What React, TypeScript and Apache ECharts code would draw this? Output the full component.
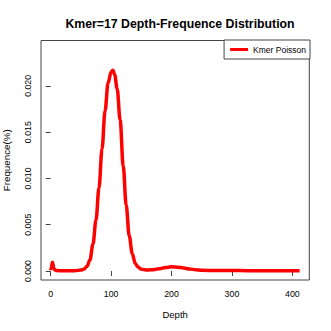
import React, { useEffect, useRef } from "react";
import * as echarts from "echarts";

const titleText = "Kmer=17 Depth-Frequence Distribution";
const seriesName = "Kmer Poisson";
const xName = "Depth";
const yName = "Frequence(%)";
const xTicks = [0, 100, 200, 300, 400];
const yTicks = [0, 0.005, 0.01, 0.015, 0.02];

const depths = [
  0, 1, 2, 3, 4, 5, 7, 10, 20, 30, 40, 50, 55, 60, 65, 70, 75, 80, 85, 90, 95,
  100, 103, 106, 110, 115, 120, 125, 130, 135, 140, 145, 150, 160, 170, 180,
  190, 200, 210, 220, 230, 240, 250, 275, 300, 325, 350, 375, 400, 412,
];
const freqs = [
  0.0001, 0.0003, 0.0007, 0.00095, 0.0007, 0.0003, 0.00012, 0.00005, 0.00002,
  0.00002, 0.00004, 0.0001, 0.0002, 0.0005, 0.0012, 0.0029, 0.0055, 0.009,
  0.0132, 0.0173, 0.0203, 0.0215, 0.0217, 0.0212, 0.0197, 0.0163, 0.0114,
  0.0071, 0.0038, 0.0019, 0.0008, 0.0004, 0.0002, 0.0001, 0.00015, 0.00025,
  0.00038, 0.00045, 0.00042, 0.00033, 0.00022, 0.00013, 0.00008, 0.00005,
  0.00005, 0.00004, 0.00004, 0.00003, 0.00003, 0.00003,
];

export default function App() {
  const ref = useRef<HTMLDivElement>(null);
  useEffect(() => {
    if (!ref.current) return;
    const chart = echarts.init(ref.current, null, { renderer: "svg" });
    const font = "'Liberation Sans', Arial, sans-serif";
    chart.setOption({
      animation: false,
      backgroundColor: "#ffffff",
      textStyle: { fontFamily: font },
      title: {
        text: titleText,
        left: 175,
        textAlign: "center",
        top: 13,
        textStyle: { fontSize: 12.3, fontWeight: "bold", color: "#000", fontFamily: font },
      },
      legend: {
        data: [seriesName],
        right: 21,
        top: 40,
        orient: "horizontal",
        icon: "rect",
        itemWidth: 18,
        itemHeight: 3,
        padding: [5, 4, 5, 6],
        borderColor: "#444",
        borderWidth: 1,
        borderRadius: 0,
        backgroundColor: "#fff",
        textStyle: { fontSize: 8.5, color: "#000", fontFamily: font },
      },
      grid: {
        left: 41,
        right: 21.7,
        top: 40.5,
        bottom: 51,
        show: true,
        borderColor: "#444",
        borderWidth: 1,
        containLabel: false,
        outerBoundsMode: "none",
      },
      xAxis: {
        type: "value",
        min: -16,
        max: 428,
        name: xName,
        nameLocation: "middle",
        nameGap: 29,
        nameTextStyle: { fontSize: 9.5, color: "#000", fontFamily: font },
        axisLine: { show: false },
        splitLine: { show: false },
        axisTick: {
          show: true,
          length: 5,
          lineStyle: { color: "#444" },
          customValues: xTicks,
        },
        axisLabel: {
          fontSize: 8.8,
          color: "#000",
          margin: 9,
          fontFamily: font,
          customValues: xTicks,
          formatter: (v: number) => String(v),
        },
      },
      yAxis: {
        type: "value",
        min: -0.00097,
        max: 0.0249,
        name: yName,
        nameLocation: "middle",
        nameRotate: 90,
        nameGap: 30,
        nameTextStyle: { fontSize: 9.8, color: "#000", fontFamily: font },
        axisLine: { show: false },
        splitLine: { show: false },
        axisTick: {
          show: true,
          length: 5,
          lineStyle: { color: "#444" },
          customValues: yTicks,
        },
        axisLabel: {
          rotate: 90,
          fontSize: 8.8,
          color: "#000",
          margin: 9,
          fontFamily: font,
          customValues: yTicks,
          formatter: (v: number) => v.toFixed(3),
        },
      },
      series: [
        {
          name: seriesName,
          type: "line",
          data: depths.map((d, i) => [d, freqs[i]]),
          showSymbol: false,
          smooth: 0.35,
          smoothMonotone: "x",
          color: "#ff0000",
          lineStyle: { color: "#ff0000", width: 3.5 },
        },
      ],
    });
    return () => chart.dispose();
  }, []);
  return (
    <div
      ref={ref}
      style={{ position: "fixed", left: 0, top: 0, width: 331, height: 331 }}
    />
  );
}
